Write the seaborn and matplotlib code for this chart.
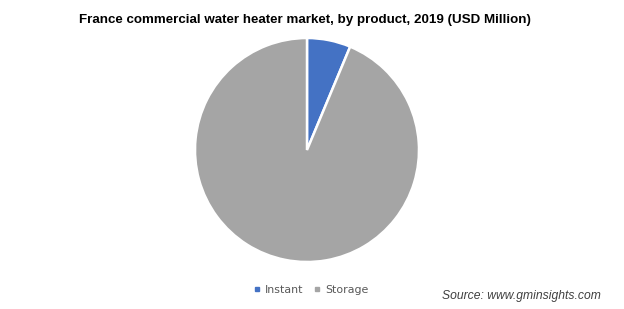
import matplotlib
matplotlib.use("Agg")
import matplotlib.pyplot as plt
import seaborn as sns
from matplotlib.lines import Line2D

categories = ["Instant", "Storage"]
values = [6.3, 93.7]
colors = ["#4472C4", "#A5A5A5"]

sns.set_theme(style="white")
plt.rcParams['font.family'] = ['Liberation Sans', 'DejaVu Sans']

W, H = 624, 309
fig = plt.figure(figsize=(W / 100, H / 100), dpi=100)
fig.patch.set_facecolor("white")

cx, cy, r = 307, 150, 112
ax = fig.add_axes([(cx - r) / W, (H - cy - r) / H, 2 * r / W, 2 * r / H])
ax.pie(values, colors=colors, startangle=90, counterclock=False,
       wedgeprops=dict(edgecolor="white", linewidth=1.8), radius=1.0)
ax.set_xlim(-1.0, 1.0)
ax.set_ylim(-1.0, 1.0)
ax.set_aspect("equal")
ax.axis("off")

fig.text(305 / W, 1 - 20 / H, "France commercial water heater market, by product, 2019 (USD Million)",
         ha="center", va="center", fontsize=9.6, fontweight="bold", color="#000000")

handles = [Line2D([0], [0], marker="s", linestyle="none", markersize=3.2,
                  markerfacecolor=c, markeredgecolor=c) for c in colors]
fig.legend(handles, categories, loc="center", bbox_to_anchor=(311 / W, 1 - 290 / H),
           ncol=2, frameon=False, prop={"family": "DejaVu Sans", "size": 7.9},
           labelcolor="#595959", handletextpad=0.35, columnspacing=0.9, handlelength=0.7)

fig.text(601 / W, 1 - 296 / H, "Source: www.gminsights.com", ha="right", va="center",
         fontsize=8.7, style="italic", color="#404040")

fig.savefig("out.png", dpi=100, facecolor="white")
